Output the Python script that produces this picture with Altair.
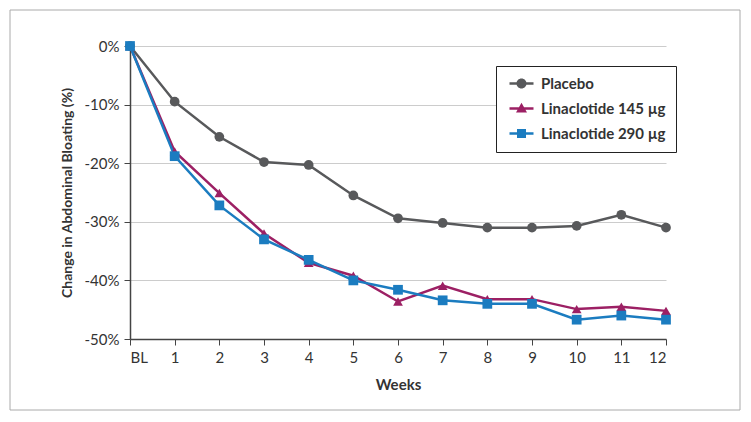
import altair as alt
import pandas as pd

weeks = list(range(13))
series_names = ["Placebo", "Linaclotide 145 µg", "Linaclotide 290 µg"]
placebo = [0, -9.5, -15.5, -19.8, -20.3, -25.5, -29.4, -30.2, -31.0, -31.0, -30.7, -28.8, -31.0]
lin145 = [0, -18.0, -25.1, -32.0, -37.0, -39.2, -43.6, -40.9, -43.2, -43.2, -44.9, -44.5, -45.2]
lin290 = [0, -18.8, -27.2, -33.0, -36.5, -40.0, -41.6, -43.4, -44.0, -44.0, -46.7, -46.0, -46.7]
colors = ["#58595b", "#9c2064", "#1b7cc0"]
y_ticks = [-50, -40, -30, -20, -10, 0]

rows = []
for name, vals in zip(series_names, [placebo, lin145, lin290]):
    for w, v in zip(weeks, vals):
        rows.append({"week": w, "value": v, "series": name})
df = pd.DataFrame(rows)

FONT = "Lato, sans-serif"

x_enc = alt.X("week:Q", scale=alt.Scale(domain=[0, 12], nice=False, zero=False),
              axis=alt.Axis(values=weeks, labelExpr="datum.value == 0 ? 'BL' : datum.value",
                            grid=False, title="Weeks", titleFontWeight="bold", titleFontSize=15,
                            titlePadding=12, labelFontSize=15, labelPadding=5, tickSize=6,
                            labelColor="#333333", titleColor="#333333",
                            domainColor="#444444", tickColor="#444444", domainWidth=1.5))
y_enc = alt.Y("value:Q", scale=alt.Scale(domain=[-50, 0], nice=False),
              axis=alt.Axis(values=y_ticks, labelExpr="datum.value + '%'",
                            title="Change in Abdominal Bloating (%)", titleFontWeight="bold",
                            titleFontSize=14, titlePadding=10, labelFontSize=15, labelPadding=5,
                            tickSize=6, gridColor="#cccccc", labelColor="#333333",
                            titleColor="#333333", domainColor="#444444", tickColor="#444444",
                            domainWidth=1.5))
color_scale = alt.Scale(domain=series_names, range=colors)

base = alt.Chart(df).encode(x=x_enc, y=y_enc)

lines = base.mark_line(strokeWidth=2.5).encode(
    color=alt.Color("series:N", scale=color_scale, legend=None),
    order="week:Q",
)
points = base.mark_point(filled=True, size=95, opacity=1).encode(
    color=alt.Color("series:N", scale=color_scale, legend=None),
    shape=alt.Shape("series:N", scale=alt.Scale(domain=series_names, range=["circle", "triangle-up", "square"]), legend=None),
)

bar = "M-2.4,-0.25H2.4V0.25H-2.4Z "
leg_shapes = [
    bar + "M1,0A1,1 0 1,1 -1,0A1,1 0 1,1 1,0Z",
    bar + "M0,-1.15L1.1,0.8H-1.1Z",
    bar + "M-0.9,-0.9H0.9V0.9H-0.9Z",
]
legend = alt.Legend(title=None, orient="none", legendX=366, legendY=20, padding=10,
                    strokeColor="#222222", fillColor="white", symbolSize=100,
                    symbolOffset=8, labelOffset=12, rowPadding=9,
                    labelFontSize=15, labelFontWeight="bold", labelColor="#333333",
                    labelFont=FONT)
leg_layer = base.mark_point(filled=True, size=100, opacity=1).encode(
    color=alt.Color("series:N", scale=alt.Scale(domain=series_names, range=colors), legend=legend),
    shape=alt.Shape("series:N", scale=alt.Scale(domain=series_names, range=leg_shapes), legend=legend),
).transform_filter("false")

frame = alt.Chart(pd.DataFrame({"a": [0]})).mark_rect(fill=None, stroke="#aaaaaa", strokeWidth=1).encode(
    x=alt.value(-120), x2=alt.value(610), y=alt.value(-36), y2=alt.value(364)
)

chart = alt.layer(frame, lines, points, leg_layer).resolve_scale(
    shape="independent", color="independent"
).properties(
    width=536, height=293, autosize=alt.AutoSizeParams(type="none"),
    padding={"left": 122, "top": 38, "right": 77, "bottom": 75},
).configure_view(stroke=None).configure_axis(labelFont=FONT, titleFont=FONT).configure_legend(labelFont=FONT)

chart.save("out.html", embed_options={"renderer": "svg", "actions": False})
